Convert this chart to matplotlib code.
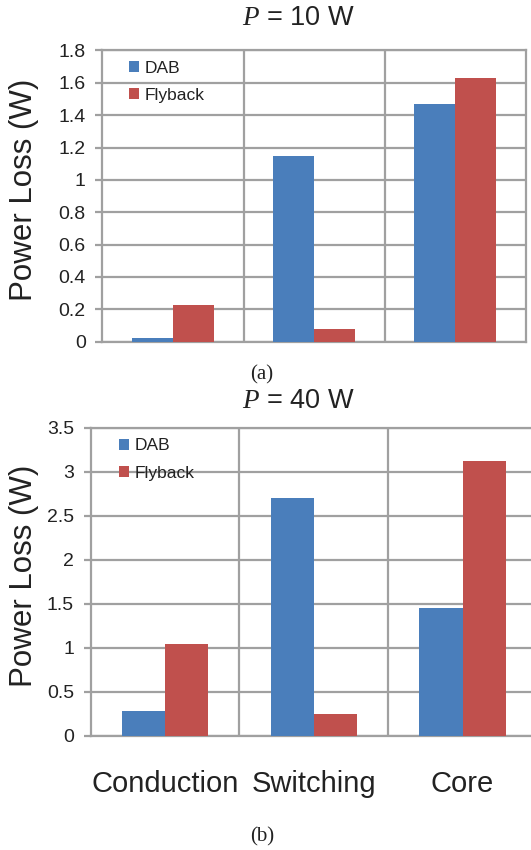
import numpy as np
import matplotlib
matplotlib.use('Agg')
import matplotlib.pyplot as plt

plt.rcParams['font.family'] = ['Liberation Sans', 'DejaVu Sans']
plt.rcParams['mathtext.fontset'] = 'custom'
plt.rcParams['mathtext.it'] = 'Liberation Serif:italic'
plt.rcParams['mathtext.rm'] = 'Liberation Sans'

# Loss components and values
categories = ['Conduction', 'Switching', 'Core']
series = ['DAB', 'Flyback']
dab_10w = [0.02, 1.15, 1.47]
flyback_10w = [0.225, 0.08, 1.63]
dab_40w = [0.28, 2.70, 1.45]
flyback_40w = [1.04, 0.25, 3.12]
ticks_10w = [0, 0.2, 0.4, 0.6, 0.8, 1, 1.2, 1.4, 1.6, 1.8]
ticks_40w = [0, 0.5, 1, 1.5, 2, 2.5, 3, 3.5]

blue = '#4A7EBB'
red = '#C0504D'
grid = '#A0A0A0'

fig = plt.figure(figsize=(5.31, 8.5), dpi=100)
ax1 = fig.add_axes([0.1930, 0.5980, 0.7976, 0.3426])
ax2 = fig.add_axes([0.1708, 0.1345, 0.8405, 0.3624])


def draw(ax, dab, fly, yticks, show_labels, leg_anchor):
    x = np.arange(len(categories))
    w = 0.29
    ax.bar(x - w / 2, dab, w, color=blue, label=series[0], zorder=3)
    ax.bar(x + w / 2, fly, w, color=red, label=series[1], zorder=3)
    ax.set_xlim(-0.5, len(categories) - 0.5)
    ax.set_ylim(yticks[0], yticks[-1])
    ax.set_yticks(yticks)
    ax.set_yticklabels([f'{t:g}' for t in yticks])
    ax.set_xticks(x)
    ax.set_xticks(x[:-1] + 0.5, minor=True)
    if show_labels:
        ax.set_xticklabels(categories, fontsize=21)
    else:
        ax.set_xticklabels([])
    ax.tick_params(axis='x', which='both', length=0, pad=25, colors='#222222')
    ax.tick_params(axis='y', length=5, width=1.6, color=grid, pad=7,
                   labelsize=14, labelcolor='#222222')
    ax.grid(axis='y', color=grid, lw=1.6, zorder=1)
    ax.grid(axis='x', which='minor', color=grid, lw=1.6, zorder=1)
    for s in ax.spines.values():
        s.set_color(grid)
        s.set_linewidth(1.6)
    leg = ax.legend(loc='upper left', bbox_to_anchor=leg_anchor, frameon=False,
                    fontsize=12.5, handlelength=0.6, handleheight=0.6,
                    handletextpad=0.3, labelspacing=0.7, borderpad=0,
                    borderaxespad=0)
    for t in leg.get_texts():
        t.set_color('#222222')


draw(ax1, dab_10w, flyback_10w, ticks_10w, False, (0.062, 0.965))
draw(ax2, dab_40w, flyback_40w, ticks_40w, True, (0.063, 0.965))

fig.text(298 / 531, 1 - 18 / 850, '$P$ = 10 W', fontsize=19.5, ha='center', va='center', color='#222222')
fig.text(298 / 531, 1 - 401 / 850, '$P$ = 40 W', fontsize=19.5, ha='center', va='center', color='#222222')
fig.text(24 / 531, 1 - 190 / 850, 'Power Loss (W)', fontsize=22.5, rotation=90,
         ha='center', va='center', color='#222222')
fig.text(24 / 531, 1 - 576 / 850, 'Power Loss (W)', fontsize=22.5, rotation=90,
         ha='center', va='center', color='#222222')
fig.text(262 / 531, 1 - 375 / 850, '(a)', fontsize=15, family='Liberation Serif',
         ha='center', va='center', color='#222222')
fig.text(262 / 531, 1 - 837 / 850, '(b)', fontsize=15, family='Liberation Serif',
         ha='center', va='center', color='#222222')

fig.savefig('out.png', dpi=100)
